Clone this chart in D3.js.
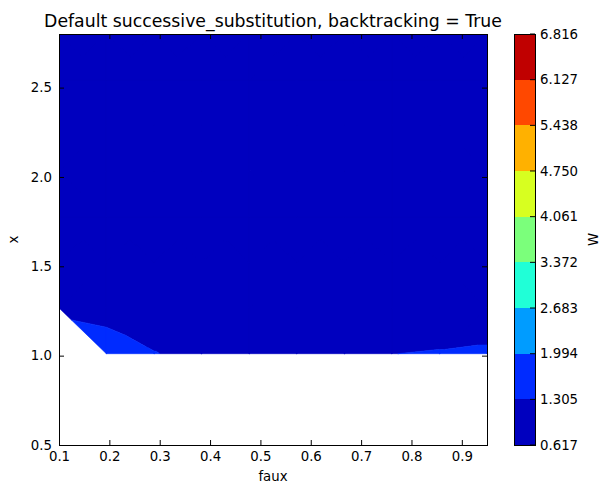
<!DOCTYPE html>
<html>
<head>
<meta charset="utf-8">
<script src="https://cdnjs.cloudflare.com/ajax/libs/d3/7.8.5/d3.min.js"></script>
<style>
  body { margin: 0; background: #fff; }
  text { font-family: "DejaVu Sans", sans-serif; fill: #000; }
</style>
</head>
<body>
<svg id="chart" width="600" height="485"></svg>
<script>
// grid of the solver run (faux on x, x on y), W = null where it failed
const fauxGrid = [0.1, 0.194, 0.289, 0.383, 0.478, 0.572, 0.667, 0.761, 0.856, 0.95];
const xGrid    = [0.5, 0.756, 1.011, 1.267, 1.522, 1.778, 2.033, 2.289, 2.544, 2.8];
const W = [
  [null, null, null, null, null, null, null, null, null, null],
  [null, null, null, null, null, null, null, null, null, null],
  [null, 1.60, 1.33, 1.12, 1.10, 1.12, 1.18, 1.30, 1.34, 1.40],
  [1.20, 1.09, 0.91, 0.95, 0.97, 0.98, 0.96, 0.95, 0.95, 0.90],
  [0.96, 0.90, 0.84, 0.86, 0.88, 0.89, 0.88, 0.87, 0.86, 0.85],
  [0.88, 0.79, 0.79, 0.81, 0.82, 0.83, 0.82, 0.81, 0.80, 0.80],
  [0.82, 0.75, 0.75, 0.76, 0.77, 0.78, 0.77, 0.76, 0.76, 0.75],
  [0.77, 0.71, 0.71, 0.72, 0.73, 0.73, 0.73, 0.72, 0.72, 0.71],
  [0.73, 0.68, 0.68, 0.69, 0.69, 0.70, 0.69, 0.69, 0.68, 0.68],
  [0.70, 0.65, 0.65, 0.66, 0.66, 0.67, 0.66, 0.66, 0.65, 0.62]
];

const levels = [0.617, 1.305, 1.994, 2.683, 3.372, 4.061, 4.750, 5.438, 6.127, 6.816];
const levelLabels = ["0.617", "1.305", "1.994", "2.683", "3.372", "4.061", "4.750", "5.438", "6.127", "6.816"];
const bandColors = ["#0000bf", "#002bff", "#009cff", "#20ffd7", "#7bff7b", "#d7ff20", "#ffb100", "#ff4800", "#c00000"];

const fauxTicks = [0.1, 0.2, 0.3, 0.4, 0.5, 0.6, 0.7, 0.8, 0.9];
const xTicks = [0.5, 1.0, 1.5, 2.0, 2.5];

let svg = d3.select("#chart");

let plot = {left: 59, right: 487, top: 34, bottom: 445};

let xs = d3.scaleLinear().domain([0.1, 0.95]).range([plot.left, plot.right]);
let ys = d3.scaleLinear().domain([0.5, 2.8]).range([plot.bottom, plot.top]);

// clip a polygon of {x,y,v} points to v >= lvl (above) or v <= lvl
function clipPoly(poly, lvl, above) {
  let out = [];
  let inside = p => above ? p.v >= lvl : p.v <= lvl;
  for (let i = 0; i < poly.length; i++) {
    let cur = poly[i], prev = poly[(i + poly.length - 1) % poly.length];
    let ic = inside(cur), ip = inside(prev);
    if (ic !== ip) {
      let t = (lvl - prev.v) / (cur.v - prev.v);
      out.push({x: prev.x + t * (cur.x - prev.x), y: prev.y + t * (cur.y - prev.y), v: lvl});
    }
    if (ic) out.push(cur);
  }
  return out;
}

// triangles from the grid; quads with one failed corner keep the other three
let triangles = [];
for (let j = 0; j < xGrid.length - 1; j++) {
  for (let i = 0; i < fauxGrid.length - 1; i++) {
    let corners = [[i, j], [i + 1, j], [i + 1, j + 1], [i, j + 1]]
      .map(c => ({x: fauxGrid[c[0]], y: xGrid[c[1]], v: W[c[1]][c[0]]}));
    let ok = corners.filter(c => c.v !== null);
    if (ok.length === 4) {
      let ctr = {
        x: d3.mean(ok, d => d.x),
        y: d3.mean(ok, d => d.y),
        v: d3.mean(ok, d => d.v)
      };
      for (let k = 0; k < 4; k++) triangles.push([corners[k], corners[(k + 1) % 4], ctr]);
    } else if (ok.length === 3) {
      triangles.push(ok);
    }
  }
}

let bandPaths = bandColors.map(() => "");
triangles.forEach(tri => {
  for (let k = 0; k < bandColors.length; k++) {
    let poly = clipPoly(clipPoly(tri, levels[k], true), levels[k + 1], false);
    if (poly.length < 3) continue;
    bandPaths[k] += "M" + poly.map(p => xs(p.x).toFixed(2) + "," + ys(p.y).toFixed(2)).join("L") + "Z";
  }
});

svg.append("defs").append("clipPath").attr("id", "plotclip")
   .append("rect")
   .attr("x", plot.left).attr("y", plot.top)
   .attr("width", plot.right - plot.left).attr("height", plot.bottom - plot.top);

svg.append("g")
   .attr("clip-path", "url(#plotclip)")
   .selectAll("path")
   .data(bandPaths)
   .enter().append("path")
   .attr("d", d => d)
   .attr("fill", (d, i) => bandColors[i])
   .attr("stroke", (d, i) => bandColors[i])
   .attr("stroke-width", 0.6)
   .attr("stroke-linejoin", "round");

// axes, ticks inside on all four sides
let tickLen = 5;
let fs = "13.3px";

svg.append("g")
   .attr("transform", "translate(0," + plot.bottom + ")")
   .call(d3.axisBottom(xs).tickValues(fauxTicks).tickSize(-tickLen).tickPadding(7).tickFormat(d3.format(".1f")));
svg.append("g")
   .attr("transform", "translate(0," + plot.top + ")")
   .call(d3.axisTop(xs).tickValues(fauxTicks).tickSize(-tickLen).tickFormat(""));
svg.append("g")
   .attr("transform", "translate(" + plot.left + ",0)")
   .call(d3.axisLeft(ys).tickValues(xTicks).tickSize(-tickLen).tickPadding(7).tickFormat(d3.format(".1f")));
svg.append("g")
   .attr("transform", "translate(" + plot.right + ",0)")
   .call(d3.axisRight(ys).tickValues(xTicks).tickSize(-tickLen).tickFormat(""));

svg.selectAll(".domain").remove();
svg.selectAll(".tick line").attr("stroke", "#000");
svg.selectAll(".tick text")
   .style("font-family", "DejaVu Sans, sans-serif")
   .style("font-size", fs)
   .attr("fill", "#000");

svg.append("rect")
   .attr("x", plot.left).attr("y", plot.top)
   .attr("width", plot.right - plot.left).attr("height", plot.bottom - plot.top)
   .attr("fill", "none").attr("stroke", "#000").attr("stroke-width", 1)
   .attr("shape-rendering", "crispEdges");

svg.append("text")
   .attr("x", (plot.left + plot.right) / 2).attr("y", 27)
   .attr("text-anchor", "middle")
   .style("font-size", "17.3px")
   .text("Default successive_substitution, backtracking = True");

svg.append("text")
   .attr("x", (plot.left + plot.right) / 2).attr("y", 481)
   .attr("text-anchor", "middle")
   .style("font-size", fs)
   .text("faux");

svg.append("text")
   .attr("transform", "translate(18," + ((plot.top + plot.bottom) / 2) + ") rotate(-90)")
   .attr("text-anchor", "middle")
   .style("font-size", fs)
   .text("x");

// colorbar
let cbLeft = 514, cbRight = 535;
let cy = d3.scaleLinear().domain([levels[0], levels[levels.length - 1]]).range([plot.bottom, plot.top]);

let cb = svg.append("g");
cb.selectAll("rect.band")
  .data(bandColors)
  .enter().append("rect")
  .attr("class", "band")
  .attr("x", cbLeft)
  .attr("width", cbRight - cbLeft)
  .attr("y", (d, i) => cy(levels[i + 1]))
  .attr("height", (d, i) => cy(levels[i]) - cy(levels[i + 1]))
  .attr("fill", d => d)
  .attr("shape-rendering", "crispEdges");

cb.selectAll("line.cbtick")
  .data(levels)
  .enter().append("line")
  .attr("class", "cbtick")
  .attr("x1", cbRight - tickLen).attr("x2", cbRight)
  .attr("y1", d => cy(d)).attr("y2", d => cy(d))
  .attr("stroke", "#000");

cb.append("rect")
  .attr("x", cbLeft).attr("y", plot.top)
  .attr("width", cbRight - cbLeft).attr("height", plot.bottom - plot.top)
  .attr("fill", "none").attr("stroke", "#000")
  .attr("shape-rendering", "crispEdges");

cb.selectAll("text.cblabel")
  .data(levels)
  .enter().append("text")
  .attr("class", "cblabel")
  .attr("x", 540)
  .attr("y", d => cy(d))
  .attr("dy", "0.35em")
  .style("font-size", fs)
  .text((d, i) => levelLabels[i]);

svg.append("text")
   .attr("transform", "translate(598," + ((plot.top + plot.bottom) / 2) + ") rotate(-90)")
   .attr("text-anchor", "middle")
   .style("font-size", fs)
   .text("W");
</script>
</body>
</html>
